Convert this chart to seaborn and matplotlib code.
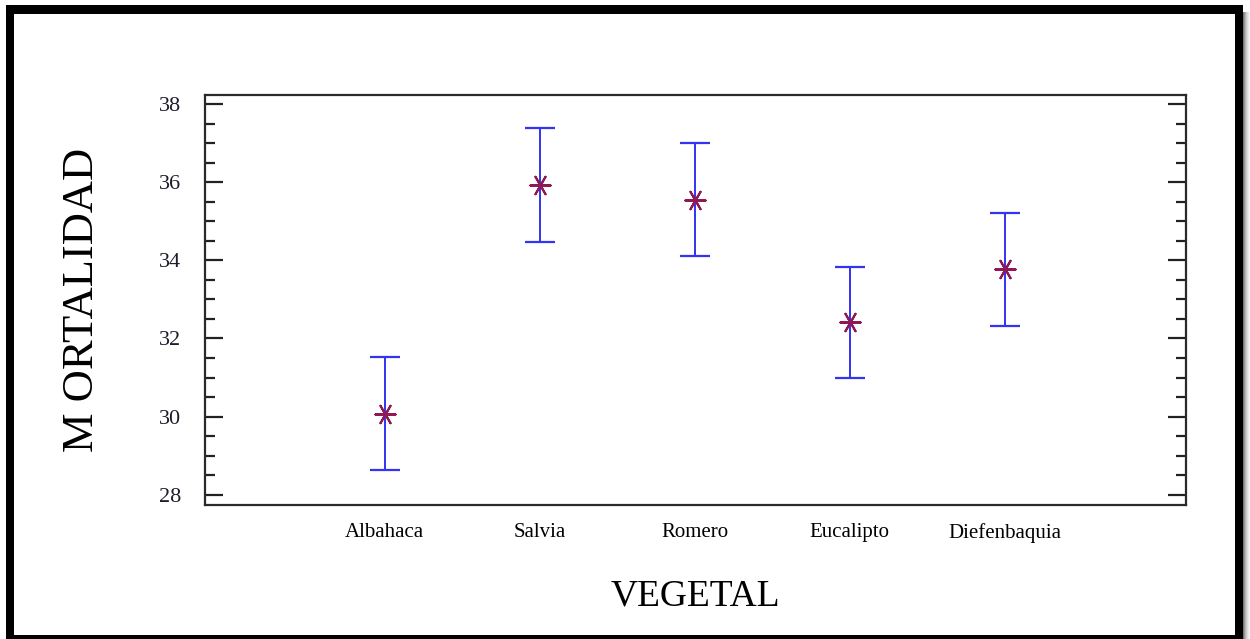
import numpy as np
import pandas as pd
import matplotlib
matplotlib.use("Agg")
import matplotlib.pyplot as plt
from matplotlib.patches import Rectangle
from matplotlib.ticker import MultipleLocator
import seaborn as sns

# Means and 95% interval bounds of mortality for each plant extract
vegetal = ["Albahaca", "Salvia", "Romero", "Eucalipto", "Diefenbaquia"]
media = [30.08, 35.92, 35.55, 32.41, 33.77]
limite_inf = [28.64, 34.46, 34.11, 30.98, 32.33]
limite_sup = [31.52, 37.38, 36.99, 33.84, 35.21]

y_ticks = [28, 30, 32, 34, 36, 38]

df = pd.DataFrame({"VEGETAL": vegetal, "MORTALIDAD": media,
                   "inf": limite_inf, "sup": limite_sup})

sns.set_theme(style="white")
plt.rcParams["font.family"] = ["Liberation Serif", "DejaVu Serif"]

W, H = 1250, 639
fig = plt.figure(figsize=(W / 100, H / 100), dpi=100)
fig.patch.set_facecolor("white")

ax = fig.add_axes([205 / W, 1 - 505 / H, (1186 - 205) / W, (505 - 95) / H])

pos = np.arange(len(vegetal))
err = np.vstack([df["MORTALIDAD"] - df["inf"], df["sup"] - df["MORTALIDAD"]])
ax.errorbar(pos, df["MORTALIDAD"], yerr=err, fmt="none", ecolor="#3333f2",
            elinewidth=1.4, capsize=11, capthick=1.6, zorder=2)

sns.scatterplot(data=df, x="VEGETAL", y="MORTALIDAD", ax=ax,
                marker=(6, 2, 90), s=210, color="#8e1a55",
                linewidth=1.5, edgecolor="#8e1a55", zorder=3, legend=False)

ax.set_xlim(-1.16, 5.17)
ax.set_ylim(27.74, 38.23)
ax.set_yticks(y_ticks)
ax.set_yticklabels([str(t) for t in y_ticks], fontsize=16, color="#1c1c2c")
ax.yaxis.set_minor_locator(MultipleLocator(0.5))
ax.set_xticks(pos)
ax.set_xticklabels(vegetal, fontsize=15, color="black")

ax.tick_params(axis="y", which="major", direction="in", length=13, width=1.6,
               color="#222222", left=True, right=True, pad=17)
ax.tick_params(axis="y", which="minor", direction="in", length=7, width=1.6,
               color="#222222", left=True, right=True)
ax.tick_params(axis="x", which="both", bottom=False, top=False, pad=7)

for sp in ax.spines.values():
    sp.set_visible(True)
    sp.set_color("#2a2a2a")
    sp.set_linewidth(1.6)

ax.set_xlabel("VEGETAL", fontsize=27, labelpad=26, color="black")
ax.set_ylabel("M ORTALIDAD", fontsize=32, labelpad=41, color="black")
ax.grid(False)

# Outer frame around the whole figure
def frame(x0, y0, x1, y1, color="black"):
    fig.patches.append(Rectangle((x0 / W, 1 - y1 / H), (x1 - x0) / W, (y1 - y0) / H,
                                 transform=fig.transFigure, facecolor=color,
                                 edgecolor="none", zorder=10))

frame(6, 5, 1243, 14)
frame(6, 5, 14, 639)
frame(1235, 5, 1243, 639)
frame(6, 635, 1243, 639)
for i, g in enumerate(["#777777", "#999999", "#b5b5b5", "#cccccc", "#dddddd", "#ebebeb", "#f5f5f5"]):
    frame(1243 + i, 12, 1244 + i, 639, g)

fig.savefig("out.png", dpi=100, facecolor="white")
